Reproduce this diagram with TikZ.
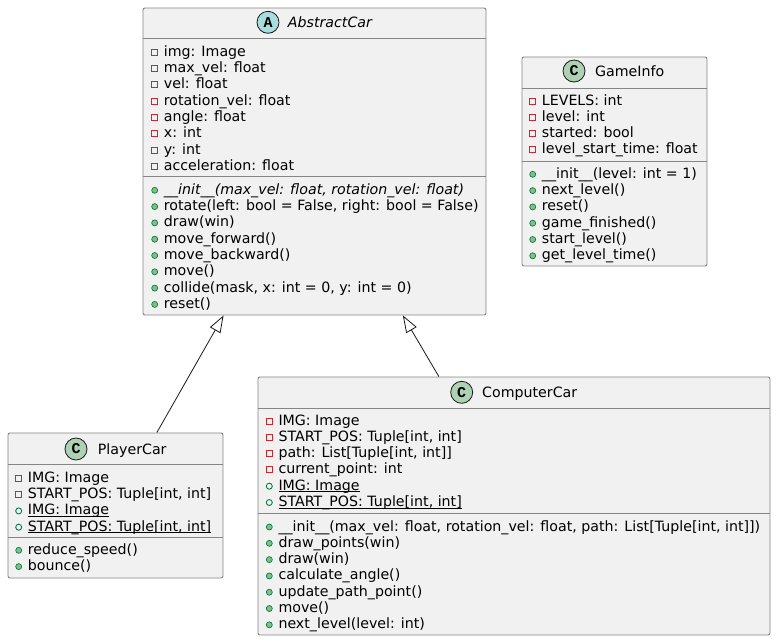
\documentclass[tikz,border=0pt]{standalone}
\usepackage{fontspec}
\setmainfont{DejaVu Sans}
\newfontfamily\iconfont{Liberation Mono}
\usetikzlibrary{arrows.meta}
\definecolor{boxfill}{HTML}{F1F1F1}
\definecolor{boxline}{HTML}{858585}
\definecolor{privred}{HTML}{C82930}
\definecolor{pubgreen}{HTML}{038048}
\definecolor{pubfill}{HTML}{84BE84}
\definecolor{cfill}{HTML}{ADD1B2}
\definecolor{afill}{HTML}{A9DCDF}
\definecolor{edge}{HTML}{181818}
\newcommand\memfont{\fontsize{14.2}{16}\selectfont}
\newcommand\staticul[1]{\setbox0\hbox{#1}\rlap{\rule[-1.9pt]{\wd0}{0.8pt}}\box0}
\tikzset{
  classbox/.style={draw=boxline, fill=boxfill, line width=0.9pt, rounded corners=2pt, inner sep=0pt, rectangle},
  sepline/.style={draw=boxline, line width=0.9pt},
  member/.style={anchor=base west, inner sep=0pt, font=\memfont},
  titletext/.style={anchor=base west, inner sep=0pt, font=\memfont},
  classicon/.style={circle, draw=edge, line width=0.8pt, fill=cfill, minimum size=22pt, inner sep=0pt, font=\iconfont\bfseries\fontsize{15}{15}\selectfont},
  privicon/.style={draw=privred, line width=0.9pt},
  pubfieldicon/.style={draw=pubgreen, line width=0.9pt},
  pubmethodicon/.style={draw=pubgreen, fill=pubfill, line width=0.7pt},
  inherit/.style={draw=edge, line width=0.8pt, -{Triangle[open, length=17pt, width=12pt, fill=white]}},
}
% #1 prefix, #2 text x, #3 first row centre, #4 kind, #5 list
\newcommand\memrows[5]{%
  \foreach \t [count=\i] in {#5} {
    \pgfmathsetmacro\yy{#3+(\i-1)*16.3}
    \node[member] (#1\i) at (#2,\yy+5) {\t};
    \csname icon#4\endcsname{#2-9}{\yy+1}
  }%
}
\newcommand\iconpriv[2]{\draw[privicon] ({#1-3},{#2-3}) rectangle ++(6,6);}
\newcommand\iconpubf[2]{\draw[pubfieldicon] ({#1},{#2}) circle[radius=3pt];}
\newcommand\iconpubm[2]{\draw[pubmethodicon] ({#1},{#2}) circle[radius=3pt];}
\begin{document}
\begin{tikzpicture}[x=1pt,y=-1pt]
\useasboundingbox (0,0) rectangle (776,641);
% boxes
\node[classbox, minimum width=343pt, minimum height=307pt] (abs) at (314.5,161.5) {};
\node[classbox, minimum width=185pt, minimum height=209pt] (game) at (614.5,161.5) {};
\node[classbox, minimum width=215pt, minimum height=145pt] (player) at (115.5,505.5) {};
\node[classbox, minimum width=512pt, minimum height=258pt] (comp) at (514,506) {};
% separators
\draw[sepline] ([yshift=-31pt]abs.north west) -- ([yshift=-31pt]abs.north east);
\draw[sepline] ([yshift=-169pt]abs.north west) -- ([yshift=-169pt]abs.north east);
\draw[sepline] ([yshift=-31.5pt]game.north west) -- ([yshift=-31.5pt]game.north east);
\draw[sepline] ([yshift=-105pt]game.north west) -- ([yshift=-105pt]game.north east);
\draw[sepline] ([yshift=-32pt]player.north west) -- ([yshift=-32pt]player.north east);
\draw[sepline] ([yshift=-105pt]player.north west) -- ([yshift=-105pt]player.north east);
\draw[sepline] ([yshift=-31.5pt]comp.north west) -- ([yshift=-31.5pt]comp.north east);
\draw[sepline] ([yshift=-136.5pt]comp.north west) -- ([yshift=-136.5pt]comp.north east);
% titles
\node[classicon, fill=afill] (absicon) at (268,22.3) {A};
\node[titletext, font=\memfont\itshape] (abstitle) at (287.7,27.3) {AbstractCar};
\node[classicon] (gameicon) at (574,71) {C};
\node[titletext] (gametitle) at (595,76) {GameInfo};
\node[classicon] (playericon) at (76,449) {C};
\node[titletext] (playertitle) at (97.7,454) {PlayerCar};
\node[classicon] (compicon) at (461.7,392.3) {C};
\node[titletext] (comptitle) at (482,397.3) {ComputerCar};
% AbstractCar
\memrows{absa}{163.7}{51.3}{priv}{{img: Image},{max\_vel: float},{vel: float},{rotation\_vel: float},{angle: float},{x: int},{y: int},{acceleration: float}}
\memrows{absm}{163.7}{189.3}{pubm}{{\itshape \_\_init\_\_(max\_vel: float, rotation\_vel: float)},{rotate(left: bool = False, right: bool = False)},{draw(win)},{move\_forward()},{move\_backward()},{move()},{collide(mask, x: int = 0, y: int = 0)},{reset()}}
% GameInfo
\memrows{gamea}{541.7}{100}{priv}{{LEVELS: int},{level: int},{started: bool},{level\_start\_time: float}}
\memrows{gamem}{541.7}{173.3}{pubm}{{\_\_init\_\_(level: int = 1)},{next\_level()},{reset()},{game\_finished()},{start\_level()},{get\_level\_time()}}
% PlayerCar
\memrows{playera}{27.7}{477.3}{priv}{{IMG: Image},{START\_POS: Tuple[int, int]}}
\memrows{players}{27.7}{509.9}{pubf}{{\staticul{IMG: Image}},{\staticul{START\_POS: Tuple[int, int]}}}
\memrows{playerm}{27.7}{549.3}{pubm}{{reduce\_speed()},{bounce()}}
% ComputerCar
\memrows{compa}{278.3}{420}{priv}{{IMG: Image},{START\_POS: Tuple[int, int]},{path: List[Tuple[int, int]]},{current\_point: int}}
\memrows{comps}{278.3}{485.2}{pubf}{{\staticul{IMG: Image}},{\staticul{START\_POS: Tuple[int, int]}}}
\memrows{compm}{278.3}{526}{pubm}{{\_\_init\_\_(max\_vel: float, rotation\_vel: float, path: List[Tuple[int, int]])},{draw\_points(win)},{draw(win)},{calculate\_angle()},{update\_path\_point()},{move()},{next\_level(level: int)}}
% inheritance
\draw[inherit] ([xshift=149.3pt]player.north west) -- ([xshift=81pt]abs.south west);
\draw[inherit] ([xshift=181.3pt]comp.north west) -- ([xshift=260.3pt]abs.south west);
\end{tikzpicture}
\end{document}
